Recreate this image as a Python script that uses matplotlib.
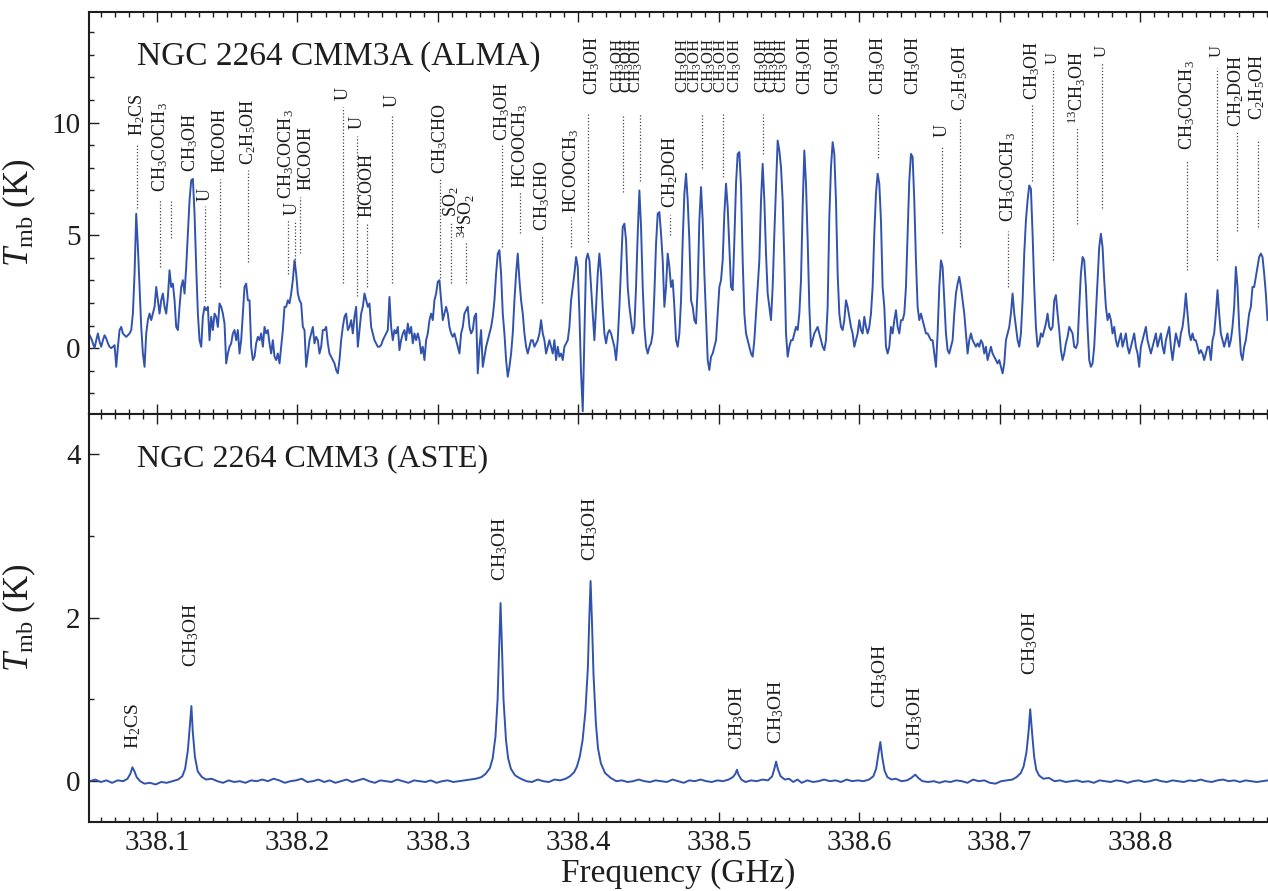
import numpy as np
import matplotlib.pyplot as plt
from matplotlib.ticker import MultipleLocator, FormatStrFormatter

plt.rcParams['font.family'] = ['Liberation Serif', 'DejaVu Serif']
plt.rcParams['mathtext.fontset'] = 'custom'
plt.rcParams['mathtext.rm'] = 'Liberation Serif'
plt.rcParams['mathtext.it'] = 'Liberation Serif:italic'
plt.rcParams['mathtext.bf'] = 'Liberation Serif:bold'

# ALMA spectrum (CMM3A), one value per channel
chan0 = 338.052        # GHz, first channel
chan_width = 0.0011862  # GHz
alma_tmb = [
    0.57, 0.43, 0.21, 0.0, 0.35, 0.65, 0.28, 0.06, 0.35, 0.57,
    0.43, 0.21, 0.06, 0.0, 0.06, 0.13, -0.83, 0.06, 0.8, 0.94,
    0.65, 0.57, 0.5, 0.57, 0.65, 0.8, 1.53, 3.3, 5.96, 4.48,
    2.71, 0.94, -0.24, -0.83, 0.65, 1.24, 1.53, 1.24, 1.53, 1.83,
    2.71, 2.12, 1.53, 2.12, 2.42, 1.83, 1.53, 2.27, 3.45, 2.71,
    2.86, 2.12, 0.94, 0.8, 1.83, 2.71, 3.01, 2.42, 3.6, 5.07,
    6.55, 7.43, 7.5, 5.96, 3.6, 1.53, 0.35, 0.06, 1.39, 1.83,
    1.68, 1.83, 0.35, 1.39, 0.8, 1.53, 1.39, 0.94, 1.98, 1.83,
    1.53, 1.09, -0.68, -0.24, 0.06, 0.21, 0.65, 0.8, 0.35, 0.8,
    -0.24, 0.35, 1.53, 2.71, 2.86, 2.12, 2.12, 0.06, -0.53, -0.38,
    0.21, 0.5, 0.35, 0.65, 0.06, 0.94, 0.65, 0.8, 0.21, -0.24,
    0.35, -0.38, -0.53, -0.24, -0.68, 0.06, 0.8, 1.83, 1.83, 2.12,
    1.98, 2.42, 3.01, 3.89, 3.3, 2.42, 2.12, 1.98, 0.94, 0.8,
    -0.83, -0.24, 0.35, 0.65, 0.94, 0.21, 0.5, 0.35, -0.24, 0.06,
    0.8, 0.8, 0.94, 0.21, -0.24, -0.38, -0.53, -0.68, -0.97, -1.12,
    -0.53, 0.35, 0.94, 1.39, 1.53, 0.8, 0.94, 1.24, 0.65, 1.39,
    1.83, 0.06, 0.8, 1.53, 1.83, 2.42, 2.12, 1.83, 1.98, 0.94,
    0.65, 0.35, 0.21, 0.06, 0.06,
    0.13, 0.35, 0.5, 0.65, 0.8, 2.27, 0.94, 0.35, 0.8, 0.65,
    0.94, -0.09, 0.35, 0.65, 0.8, 0.35, 1.09, 0.65, 0.94, 0.21,
    0.65, 0.35, 0.65, 0.35, -0.24, 0.06, -0.53, 0.35, 0.65, 1.24,
    1.53, 1.24, 2.12, 2.42, 2.94, 3.01, 2.12, 1.24, 1.53, 1.83,
    1.53, 0.94, 0.65, 0.5, 0.65, 0.35, 0.06, -0.24, 0.65, 0.94,
    1.53, 1.68, 1.83, 0.94, 0.65, 0.8, 1.39, 1.53, -1.12, 0.06,
    0.8, -0.83, -0.38, 0.06, 0.35, 0.65, 0.94, 1.39, 2.12, 3.3,
    4.19, 4.34, 3.3, 1.53, 0.65, -0.53, -1.27, -0.83, -0.24, 0.65,
    2.12, 3.3, 4.19, 3.01, 2.12, 1.53, 0.65, 0.06, -0.24, 0.06,
    0.35, 0.35, 0.06, 0.21, 0.35, 0.65, 1.24, 0.65, 0.35, -0.24,
    0.06, 0.35, 0.06, -0.24, 0.35, -0.53, 0.06, -0.38, -0.24, -0.53,
    0.06, 0.21, 0.35, 0.94, 2.12, 2.71, 3.3, 4.04, 3.6, 1.53,
    -1.12, -2.8, 0.65, 3.89, 4.19, 3.89, 2.71, 1.53, 0.35, 1.83,
    3.3, 4.19, 3.3, 1.83, 0.65, 0.21, 0.65, 0.8, 0.65, 0.35,
    0.06, -0.53, 0.35, 1.83, 3.6, 5.37, 5.52, 4.78, 2.71, 1.83,
    1.24, 0.65, 0.94, 2.71, 5.07, 6.99, 5.37, 2.71, 0.94, 0.06,
    -0.24, 0.06, 0.21, 0.65, 2.42, 4.63, 5.96, 6.03, 5.07, 3.89,
    1.83, 2.71, 4.19, 3.6, 2.71, 3.01, 1.83, 0.35, 0.06, 0.65,
    2.12, 4.78, 6.84, 7.73, 6.55, 4.78, 2.12, 1.83, 1.24, 1.09,
    2.71, 5.66, 7.14, 5.66, 3.3, 1.39, -0.53, -0.97, -0.38, -0.24,
    0.06, 0.35, 1.53, 2.71, 3.01, 3.89, 5.96, 7.29, 6.25, 4.48,
    2.71, 2.57, 4.78, 7.29, 8.61, 8.69, 7.14, 3.89, 1.53, 0.65,
    0.35, 0.06, -0.24, -0.38, 0.35, 1.53, 2.71, 3.89, 6.55, 8.17,
    6.55, 4.19, 2.42, 1.83, 1.24, 2.71, 5.07, 7.14, 9.2, 8.76,
    8.02, 6.55, 3.89, 0.65, -0.38, 0.06, 0.35, 0.35, 0.65, 0.94,
    0.8, 1.53, 3.01, 6.25, 8.76, 7.29, 4.78, 1.83, 0.06, 0.35,
    0.65, 0.8, 0.94, 0.65, 0.35, 0.06, -0.09, 0.35, 1.83, 5.81,
    8.02, 9.13, 8.61, 6.55, 3.3, 1.53, 0.94, 0.8, 1.24, 2.12,
    1.83, 1.39, 0.94, 0.65, 0.06, 0.35, 0.65, 1.24, 0.8, 0.65,
    1.39, 0.94, 0.65, 0.94, 1.53, 2.71, 5.07, 6.84, 7.73, 7.29,
    5.66, 2.71, 1.83, 0.06, -0.24, 0.06, 0.94, 0.65, 1.24, 1.68,
    0.94, 0.65, 1.24, 1.24, 1.53, 2.71, 5.07, 7.43, 8.61, 8.47,
    6.55, 3.89, 1.83, 1.24, 1.53, 1.24, 0.94, 0.65, 0.65, 0.5,
    0.35, 0.35, -0.24, -0.83, 0.65, 2.71, 3.89, 3.6, 2.12, 0.65,
    -0.09, -0.24, 0.06, 0.35, 1.53, 2.42, 2.86, 3.16, 2.71, 2.12,
    1.53, 0.65, -0.24, 0.35, 0.65, 0.35, 0.21, 0.06, 0.21, 0.06,
    0.35, 0.21, -0.24, 0.06, -0.53, -0.24, 0.06, -0.24, -0.38, -0.53,
    -0.68, -0.53, -0.83, -1.12, -0.68, 0.35, 0.65, 0.94, 1.53, 2.42,
    1.53, 0.94, 0.35, 0.06, 0.65, 2.12, 4.19, 5.66, 6.55, 7.21,
    7.06, 5.07, 2.71, 0.94, 0.06, 0.21, 0.65, 0.5, 0.8, 1.09,
    1.53, 0.94, 0.8, 0.94, 2.12, 2.35, 1.53, 0.8, -0.09, -0.53,
    -0.24, 0.21, 0.5, 0.94, 0.8, 0.65, 0.06, 0.0, 0.21, 1.83,
    3.3, 4.04, 3.89, 2.71, 0.94, -0.53, -0.83, -0.68, 0.06, 1.53,
    3.01, 4.48, 5.07, 4.48, 3.01, 1.83, 1.24, 1.53, 1.24, 0.65,
    0.94, 0.35, 0.06, 0.35, 0.65, 0.06, 0.35, 0.65, 0.06, -0.24,
    0.06, 0.35, 0.65, 0.06, -0.24, -0.83, 0.06, 0.35, 0.65, 0.94,
    0.35, 0.06, -0.24, 0.06, 0.35, 0.65, 0.06, 0.35, 0.65, 0.06,
    -0.24, 0.35, 0.65, 0.94, 0.06, -0.53, 0.06, 0.65, 0.35, 0.06,
    0.65, 0.94, 1.53, 2.42, 1.53, 0.65, 0.35, 0.65, 0.35, 0.35,
    0.06, -0.24, -0.09, -0.24, -0.53, -0.24, 0.06, 0.06, -0.53, 0.35,
    0.65, 1.53, 2.57, 1.53, 0.65, 0.35, 0.06, 0.35, 0.65, 0.06,
    0.35, 0.94, 1.83, 3.6, 2.71, 0.94, -0.24, -0.53, 0.06, 0.35,
    0.94, 1.53, 1.83, 2.71, 2.71, 3.16, 3.6, 4.04, 4.19, 4.04,
    3.3, 2.42, 1.24,
]
alma_freq = chan0 + chan_width * np.arange(len(alma_tmb))

# ASTE spectrum (CMM3)
aste_freq = [
    338.052, 338.056, 338.060, 338.064, 338.068, 338.072, 338.076, 338.079, 338.081, 338.0825,
    338.084, 338.0855, 338.088, 338.091, 338.095, 338.099, 338.103, 338.107, 338.111, 338.115,
    338.118, 338.120, 338.122, 338.1235, 338.1245, 338.1255, 338.127, 338.129, 338.132, 338.135,
    338.139, 338.143, 338.147, 338.151, 338.155, 338.159, 338.163, 338.167, 338.171, 338.175,
    338.179, 338.183, 338.187, 338.191, 338.195, 338.199, 338.203, 338.207, 338.211, 338.215,
    338.219, 338.223, 338.227, 338.231, 338.235, 338.239, 338.243, 338.247, 338.251, 338.255,
    338.259, 338.263, 338.267, 338.271, 338.275, 338.279, 338.283, 338.287, 338.291, 338.295,
    338.299, 338.303, 338.307, 338.311, 338.315, 338.319, 338.323, 338.327, 338.331, 338.334,
    338.337, 338.339, 338.341, 338.3425, 338.3437, 338.3446, 338.3455, 338.3467, 338.3485, 338.350,
    338.352, 338.355, 338.359, 338.363, 338.367, 338.371, 338.375, 338.379, 338.383, 338.387,
    338.391, 338.394, 338.397, 338.399, 338.401, 338.403, 338.405, 338.4068, 338.4078, 338.4087,
    338.4096, 338.4108, 338.4125, 338.414, 338.416, 338.419, 338.423, 338.427, 338.431, 338.435,
    338.439, 338.443, 338.447, 338.451, 338.455, 338.459, 338.463, 338.467, 338.471, 338.475,
    338.479, 338.483, 338.487, 338.491, 338.495, 338.499, 338.503, 338.507, 338.510, 338.5118,
    338.5129, 338.514, 338.516, 338.519, 338.523, 338.527, 338.531, 338.535, 338.538, 338.5395,
    338.5408, 338.542, 338.544, 338.547, 338.550, 338.553, 338.556, 338.559, 338.563, 338.567,
    338.571, 338.575, 338.579, 338.583, 338.587, 338.591, 338.595, 338.599, 338.603, 338.607,
    338.610, 338.612, 338.6135, 338.615, 338.6163, 338.618, 338.620, 338.623, 338.626, 338.630,
    338.634, 338.637, 338.6399, 338.642, 338.645, 338.649, 338.653, 338.657, 338.661, 338.665,
    338.669, 338.673, 338.677, 338.681, 338.685, 338.689, 338.693, 338.697, 338.701, 338.705,
    338.709, 338.712, 338.715, 338.717, 338.719, 338.7205, 338.7217, 338.723, 338.7245, 338.726,
    338.728, 338.731, 338.735, 338.739, 338.743, 338.747, 338.751, 338.755, 338.759, 338.763,
    338.767, 338.771, 338.775, 338.779, 338.783, 338.787, 338.791, 338.795, 338.799, 338.803,
    338.807, 338.811, 338.815, 338.819, 338.823, 338.827, 338.831, 338.835, 338.839, 338.843,
    338.847, 338.851, 338.855, 338.859, 338.863, 338.867, 338.871, 338.875, 338.879, 338.883,
    338.887, 338.891,
]
aste_tmb = [
    0.00, 0.02, -0.01, 0.01, -0.02, 0.01, 0.00, 0.03, 0.09, 0.17,
    0.12, 0.05, 0.00, -0.03, -0.02, -0.04, -0.01, -0.02, 0.00, 0.02,
    0.06, 0.15, 0.38, 0.70, 0.92, 0.60, 0.30, 0.12, 0.05, 0.02,
    0.03, 0.00, -0.02, 0.01, -0.01, 0.00, -0.02, 0.01, 0.00, 0.02,
    0.00, 0.03, 0.01, -0.02, 0.00, 0.01, 0.03, -0.01, 0.00, 0.02,
    -0.01, 0.01, -0.02, 0.00, 0.02, -0.01, 0.01, 0.03, 0.00, -0.02,
    0.01, 0.00, -0.01, 0.02, 0.00, -0.02, 0.01, 0.00, -0.01, 0.01,
    -0.02, 0.00, 0.01, -0.01, 0.00, 0.01, 0.02, 0.03, 0.05, 0.09,
    0.16, 0.28, 0.55, 1.00, 1.70, 2.18, 1.70, 1.00, 0.50, 0.28,
    0.15, 0.07, 0.03, 0.00, -0.01, 0.02, 0.00, -0.01, 0.02, 0.01,
    0.03, 0.06, 0.11, 0.18, 0.30, 0.50, 0.85, 1.40, 2.00, 2.45,
    2.00, 1.30, 0.70, 0.40, 0.22, 0.10, 0.04, 0.00, 0.01, -0.01,
    0.00, 0.02, 0.00, -0.01, 0.01, 0.00, -0.01, 0.02, 0.00, -0.02,
    0.01, 0.00, 0.02, 0.00, -0.01, 0.01, 0.00, 0.02, 0.05, 0.09,
    0.14, 0.08, 0.02, -0.01, 0.01, 0.00, 0.02, 0.01, 0.06, 0.15,
    0.24, 0.15, 0.06, 0.02, 0.03, -0.01, 0.02, -0.02, 0.01, -0.01,
    0.00, 0.02, 0.00, 0.01, -0.01, 0.02, 0.00, 0.01, 0.00, 0.02,
    0.06, 0.15, 0.32, 0.48, 0.30, 0.13, 0.05, 0.02, 0.03, 0.00,
    0.01, 0.04, 0.08, 0.04, 0.00, -0.01, 0.00, -0.02, 0.00, -0.01,
    0.01, 0.00, -0.02, 0.02, 0.00, 0.01, -0.02, -0.03, 0.00, 0.01,
    0.02, 0.05, 0.10, 0.18, 0.35, 0.60, 0.88, 0.60, 0.30, 0.14,
    0.07, 0.03, 0.04, 0.00, 0.01, -0.01, 0.00, 0.01, -0.01, 0.00,
    -0.02, 0.01, 0.00, -0.01, 0.01, 0.00, -0.02, 0.00, 0.01, -0.01,
    0.00, 0.02, 0.00, -0.01, 0.01, 0.00, -0.01, 0.01, 0.00, 0.02,
    0.00, -0.01, 0.01, 0.02, 0.00, 0.01, -0.01, 0.01, 0.00, -0.01,
    0.00, 0.01,
]

# line identifications in the ALMA spectrum: name, frequency, height of label foot
alma_names = [
    'H$_2$CS', 'CH$_3$COCH$_3$', 'CH$_3$OH', 'U', 'HCOOH', 'C$_2$H$_5$OH',
    'CH$_3$COCH$_3$', 'U', 'HCOOH', 'U', 'U', 'HCOOH', 'U',
    'CH$_3$CHO', 'SO$_2$', '$^{34}$SO$_2$', 'CH$_3$OH', 'HCOOCH$_3$',
    'CH$_3$CHO', 'HCOOCH$_3$', 'CH$_3$OH',
    'CH$_3$OH', 'CH$_3$OH', 'CH$_3$OH', 'CH$_2$DOH',
    'CH$_3$OH', 'CH$_3$OH', 'CH$_3$OH', 'CH$_3$OH', 'CH$_3$OH',
    'CH$_3$OH', 'CH$_3$OH', 'CH$_3$OH',
    'CH$_3$OH', 'CH$_3$OH', 'CH$_3$OH', 'CH$_3$OH',
    'U', 'C$_2$H$_5$OH', 'CH$_3$COCH$_3$', 'CH$_3$OH', 'U',
    '$^{13}$CH$_3$OH', 'U', 'CH$_3$COCH$_3$', 'U', 'CH$_2$DOH', 'C$_2$H$_5$OH',
]
alma_line_freq = [
    338.0858, 338.1021, 338.1235, 338.1342, 338.1448, 338.1648,
    338.1918, 338.1961, 338.2061, 338.2324, 338.2423, 338.2495, 338.2673,
    338.3014, 338.3093, 338.3199, 338.3455, 338.3584,
    338.3740, 338.3947, 338.4096,
    338.4281, 338.4345, 338.4416, 338.4651,
    338.4744, 338.4836, 338.4929, 338.5021, 338.5114,
    338.5313, 338.5384, 338.5455,
    338.5612, 338.5811, 338.6132, 338.6381,
    338.6587, 338.6715, 338.7057, 338.7228, 338.7377,
    338.7548, 338.7726, 338.8331, 338.8545, 338.8686, 338.8836,
]
alma_label_y = [
    9.4, 6.9, 7.8, 6.5, 7.8, 8.1,
    6.6, 5.9, 7.0, 11.0, 9.7, 5.8, 10.7,
    7.7, 5.8, 4.9, 9.2, 7.1,
    5.2, 6.0, 11.2,
    11.3, 11.3, 11.3, 6.2,
    11.3, 11.3, 11.3, 11.3, 11.3,
    11.3, 11.3, 11.3,
    11.2, 11.2, 11.2, 11.2,
    9.35, 10.5, 5.6, 11.0, 12.6,
    9.95, 12.9, 8.8, 12.9, 9.8, 10.1,
]

# dotted markers in the ALMA panel: frequency, upper and lower end (K)
marker_freq = [
    338.0858, 338.1021, 338.1100, 338.1342, 338.1448, 338.1648,
    338.1932, 338.1982, 338.2018, 338.2324, 338.2423, 338.2495, 338.2673,
    338.3014, 338.3093, 338.3199, 338.3455, 338.3584, 338.3740, 338.3947,
    338.4068, 338.4317, 338.4438, 338.4651, 338.4879, 338.5028, 338.5313,
    338.6132, 338.6587, 338.6715, 338.7057, 338.7228, 338.7377, 338.7548,
    338.7726, 338.8331, 338.8545, 338.8686, 338.8836,
]
marker_top = [
    9.1, 6.6, 6.6, 6.3, 7.5, 7.9,
    5.7, 5.7, 6.7, 10.7, 9.4, 5.6, 10.4,
    7.5, 5.6, 4.7, 9.0, 6.9, 5.0, 5.8,
    10.4, 10.4, 10.4, 5.9, 10.4, 10.4, 10.4,
    10.4, 8.9, 10.2, 5.2, 10.8, 12.4, 9.8,
    12.7, 8.3, 12.4, 9.6, 9.2,
]
marker_bot = [
    6.2, 3.6, 4.9, 2.1, 2.7, 3.8,
    3.3, 3.5, 4.2, 2.9, 2.3, 2.7, 2.9,
    3.1, 2.9, 2.9, 4.5, 5.1, 2.0, 4.5,
    4.7, 6.9, 7.4, 5.0, 8.0, 7.6, 8.6,
    8.45, 5.1, 4.5, 2.7, 7.4, 3.9, 5.5,
    6.2, 3.45, 3.9, 5.2, 5.35,
]

# line identifications in the ASTE spectrum
aste_names = ['H$_2$CS', 'CH$_3$OH', 'CH$_3$OH', 'CH$_3$OH', 'CH$_3$OH',
              'CH$_3$OH', 'CH$_3$OH', 'CH$_3$OH', 'CH$_3$OH']
aste_line_freq = [338.0832, 338.1245, 338.3446, 338.4087, 338.5129,
                  338.5408, 338.6150, 338.6399, 338.7217]
aste_label_y = [0.40, 1.40, 2.45, 2.70, 0.38, 0.45, 0.90, 0.38, 1.30]

line_color = '#3153ad'
ink = '#1e1e1e'

fig = plt.figure(figsize=(12.68, 8.91), dpi=100)
ax1 = fig.add_axes([0.0702, 0.5359, 0.9298, 0.4506])
ax2 = fig.add_axes([0.0702, 0.0774, 0.9298, 0.4585], sharex=ax1)

# top: ALMA
ax1.plot(alma_freq, alma_tmb, color=line_color, lw=1.4)
for f, top, bot in zip(marker_freq, marker_top, marker_bot):
    ax1.plot([f, f], [bot, top], color='#444444', lw=0.9, ls=(0, (1.0, 1.6)))
for name, f, y in zip(alma_names, alma_line_freq, alma_label_y):
    # the tightly packed methanol blends at the top get a slightly smaller size
    size = 12 if y > 11.25 else 13
    ax1.text(f, y, name, rotation=90, ha='center', va='bottom',
             fontsize=size, color=ink)
ax1.text(0.041, 0.868, 'NGC 2264 CMM3A (ALMA)', transform=ax1.transAxes,
         fontsize=24, va='baseline', color=ink)
ax1.set_ylim(-2.9, 14.9)
ax1.set_yticks([0, 5, 10])
ax1.yaxis.set_minor_locator(MultipleLocator(1))

# bottom: ASTE
ax2.plot(aste_freq, aste_tmb, color=line_color, lw=1.4)
for name, f, y in zip(aste_names, aste_line_freq, aste_label_y):
    ax2.text(f, y, name, rotation=90, ha='center', va='bottom',
             fontsize=14, color=ink)
ax2.text(0.041, 0.872, 'NGC 2264 CMM3 (ASTE)', transform=ax2.transAxes,
         fontsize=23, va='baseline', color=ink)
ax2.set_ylim(-0.5, 4.5)
ax2.set_yticks([0, 2, 4])
ax2.yaxis.set_minor_locator(MultipleLocator(1))

ax2.set_xlim(338.0516, 338.891)
ax2.xaxis.set_major_locator(MultipleLocator(0.1))
ax2.xaxis.set_minor_locator(MultipleLocator(0.01))
ax2.xaxis.set_major_formatter(FormatStrFormatter('%.1f'))
ax2.set_xlabel('Frequency (GHz)', fontsize=24, labelpad=1, color=ink)

for ax in (ax1, ax2):
    ax.spines['right'].set_visible(False)
    for side in ('left', 'top', 'bottom'):
        ax.spines[side].set_linewidth(1.5)
        ax.spines[side].set_color(ink)
    ax.tick_params(which='both', direction='in', top=True, bottom=True,
                   right=False, left=True, colors=ink, labelsize=21, width=1.0)
    ax.tick_params(which='major', length=7, pad=6)
    ax.tick_params(which='minor', length=3.5)
    ax.set_ylabel(r'$T_{\mathrm{mb}}$ (K)', fontsize=25, color=ink)
    ax.yaxis.set_label_coords(-0.043, 0.5)

ax1.tick_params(axis='x', labelbottom=False)

fig.savefig('out.png', dpi=100)
